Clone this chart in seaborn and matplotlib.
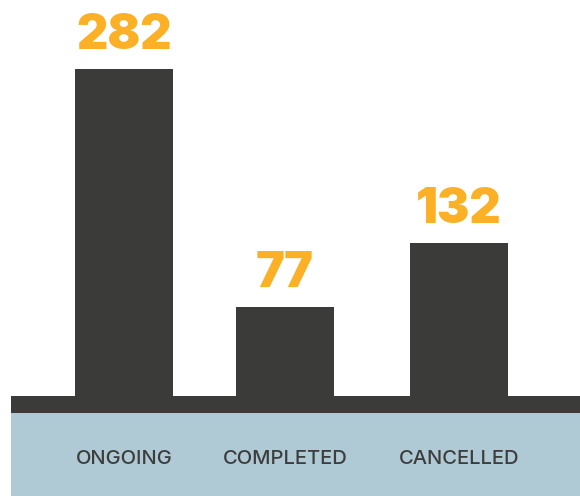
import matplotlib
matplotlib.use("Agg")
import matplotlib.pyplot as plt
import seaborn as sns
import pandas as pd

categories = ["ONGOING", "COMPLETED", "CANCELLED"]
counts = [282, 77, 132]

# layout: the bars are not quite evenly spaced in the original
slot = [0, 0.96, 2]

bar_color = "#3b3b39"
orange = "#fbb026"
band_blue = "#afcad5"
label_gray = "#3d3d3d"

df = pd.DataFrame({"status": categories, "count": counts, "slot": slot})

sns.set_style("white")
plt.rcParams["font.family"] = ["Inter", "DejaVu Sans"]

fig = plt.figure(figsize=(5.8, 4.96), dpi=100)
ax = fig.add_axes([0, 0, 1, 1])

# native_scale: width is relative to the smallest gap (0.96)
sns.barplot(data=df, x="slot", y="count", native_scale=True, color=bar_color,
            width=0.586 / 0.96, saturation=1, linewidth=0, ax=ax, zorder=3)

ax.set_xlim(-0.744, 2.723)
ax.set_ylim(-86.2, 341.4)

# dark base strip and the light blue label band
ax.fill_between([-0.679, 2.8], -14.6, 0, color=bar_color, lw=0, zorder=2)
ax.fill_between([-0.679, 2.8], -90, -14.6, color=band_blue, lw=0, zorder=1)

ax.bar_label(ax.containers[0], labels=[str(v) for v in counts], padding=7,
             color=orange, fontsize=35, fontweight="black", zorder=4)

for x, name in zip(slot, categories):
    ax.text(x, -54, name, ha="center", va="center", fontsize=14.5,
            color=label_gray, fontweight="medium", zorder=4)

ax.set_axis_off()
fig.savefig("out.png", dpi=100)
